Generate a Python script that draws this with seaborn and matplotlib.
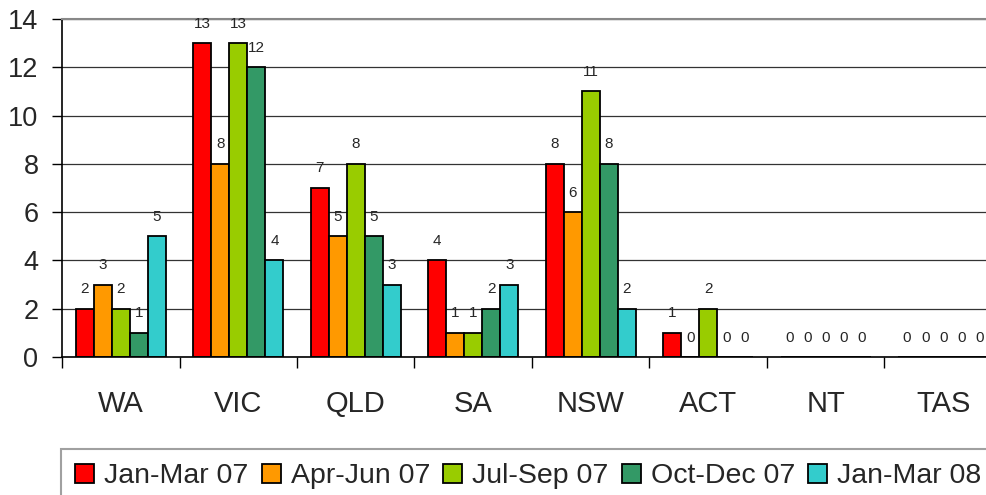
import matplotlib
matplotlib.use("Agg")
import matplotlib.pyplot as plt
from matplotlib.patches import Patch
from matplotlib.ticker import FixedLocator
import seaborn as sns
import pandas as pd

states = ["WA", "VIC", "QLD", "SA", "NSW", "ACT", "NT", "TAS"]
quarters = ["Jan-Mar 07", "Apr-Jun 07", "Jul-Sep 07", "Oct-Dec 07", "Jan-Mar 08"]
jan_mar_07 = [2, 13, 7, 4, 8, 1, 0, 0]
apr_jun_07 = [3, 8, 5, 1, 6, 0, 0, 0]
jul_sep_07 = [2, 13, 8, 1, 11, 2, 0, 0]
oct_dec_07 = [1, 12, 5, 2, 8, 0, 0, 0]
jan_mar_08 = [5, 4, 3, 3, 2, 0, 0, 0]
colors = ["#FF0000", "#FF9900", "#99CC00", "#339966", "#33CCCC"]

# long format for seaborn
series = [jan_mar_07, apr_jun_07, jul_sep_07, oct_dec_07, jan_mar_08]
rows = []
for q, vals in zip(quarters, series):
    for s, v in zip(states, vals):
        rows.append({"state": s, "quarter": q, "count": v})
df = pd.DataFrame(rows)

sns.set_style("white")
plt.rcParams["font.family"] = ["Liberation Sans", "DejaVu Sans"]

fig = plt.figure(figsize=(9.86, 4.95), dpi=100)
ax = fig.add_axes([62 / 986, 138 / 495, 940 / 986, 338 / 495])

sns.barplot(data=df, x="state", y="count", hue="quarter", order=states,
            hue_order=quarters, palette=colors, saturation=1, width=0.77,
            edgecolor="black", linewidth=1.3, legend=False, ax=ax)

for cont in ax.containers:
    ax.bar_label(cont, padding=9, fontsize=11)

ax.set_ylim(0, 14)
ax.set_xlim(-0.5, len(states) - 0.5)
ax.set_yticks(range(0, 15, 2))
ax.tick_params(axis="y", labelsize=19.5, length=7, width=1, color="black",
               pad=10, left=True)
ax.tick_params(axis="x", which="major", labelsize=21, length=0, pad=24)
ax.xaxis.set_minor_locator(FixedLocator([i - 0.5 for i in range(len(states) + 1)]))
ax.tick_params(axis="x", which="minor", length=8, width=1, color="black",
               bottom=True)
ax.set_xlabel("")
ax.set_ylabel("")

ax.yaxis.grid(True, color="#333333", linewidth=0.9)
ax.set_axisbelow(True)
for side in ["left", "bottom"]:
    ax.spines[side].set_color("black")
    ax.spines[side].set_linewidth(1.2)
ax.spines["top"].set_color("#888888")
ax.spines["top"].set_linewidth(1.5)
ax.spines["right"].set_visible(False)

handles = [Patch(facecolor=c, edgecolor="black", linewidth=1.3) for c in colors]
leg = fig.legend(handles, quarters, loc="upper left",
                 bbox_to_anchor=(61 / 986, 1 - 449 / 495), ncol=5,
                 fontsize=20.5, frameon=True, fancybox=False, borderaxespad=0,
                 handlelength=0.67, handleheight=0.67, handletextpad=0.35,
                 columnspacing=0.46, borderpad=0.5)
leg.get_frame().set_edgecolor("#888888")
leg.get_frame().set_linewidth(1.5)

fig.savefig("out.png", dpi=100)
